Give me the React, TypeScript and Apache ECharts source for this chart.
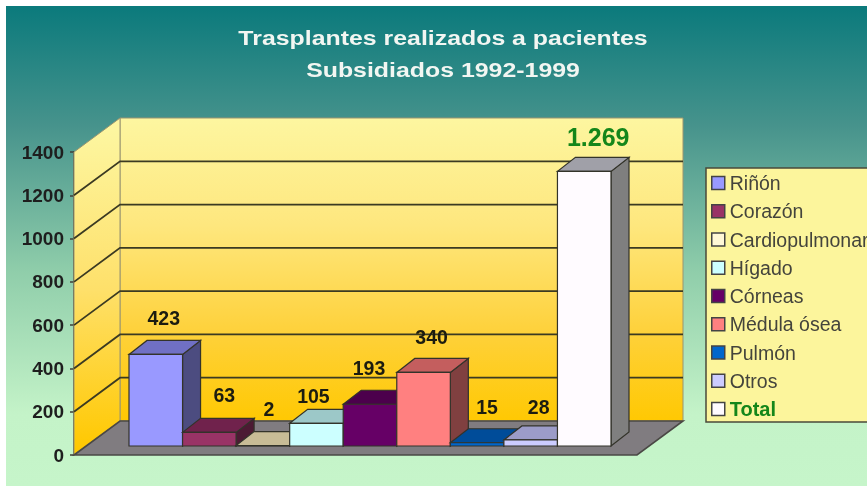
import React, { useEffect, useRef } from "react";
import * as echarts from "echarts";

const categories = ["Riñón", "Corazón", "Cardiopulmonar", "Hígado", "Córneas", "Médula ósea", "Pulmón", "Otros", "Total"];
const values = [423, 63, 2, 105, 193, 340, 15, 28, 1269];
const valueLabels = ["423", "63", "2", "105", "193", "340", "15", "28", "1.269"];
const yTicks = [0, 200, 400, 600, 800, 1000, 1200, 1400];
const titleText = "Trasplantes realizados a pacientes\nSubsidiados 1992-1999";

const frontColors = ["#9999ff", "#993366", "#fff8d6", "#ccffff", "#660066", "#ff8080", "#0066cc", "#ccccff", "#fffbff"];
const topColors = ["#7070c4", "#70224c", "#c8bc96", "#9cc8c8", "#4c004c", "#c45e5e", "#004c99", "#9c9cc8", "#a0a0a8"];
const sideColors = ["#4c4c80", "#4c1a33", "#80806a", "#668080", "#330033", "#804040", "#003366", "#666680", "#7f7f7f"];
const labelNudge = [[8, -36], [15, -37], [6, -37], [-3, -27], [-1, -36], [8, -35], [10, -36], [8, -33], [14, -34]];

const WALL_DX = 46;
const WALL_DY = -34;
const BAR_DX = 18;
const BAR_DY = -14;
const EDGE = "#33332a";
const FONT = '"Liberation Sans", Arial, sans-serif';

const wallGradient = () => ({
  type: "linear", global: true, x: 0, y: 118, x2: 0, y2: 425,
  colorStops: [
    { offset: 0, color: "#fdf6a0" },
    { offset: 0.35, color: "#fee77e" },
    { offset: 0.7, color: "#fed13a" },
    { offset: 1, color: "#ffc800" },
  ],
});

const sideGradient = () => ({
  type: "linear", global: true, x: 0, y: 130, x2: 0, y2: 450,
  colorStops: [
    { offset: 0, color: "#fdf6a0" },
    { offset: 0.5, color: "#fee06a" },
    { offset: 1, color: "#ffc800" },
  ],
});

function renderWalls(_: any, api: any) {
  const [lx, by] = api.coord([0, 0]);
  const [rx] = api.coord([1, 0]);
  const [, ty] = api.coord([0, 1400]);
  const d = (x: number, y: number) => [x + WALL_DX, y + WALL_DY];
  return {
    type: "group",
    children: [
      { type: "polygon", shape: { points: [d(lx, ty), d(rx, ty), d(rx, by), d(lx, by)] }, style: { fill: wallGradient(), stroke: "#9a9570", lineWidth: 1 } },
      { type: "polygon", shape: { points: [[lx, ty], d(lx, ty), d(lx, by), [lx, by]] }, style: { fill: sideGradient(), stroke: "#9a9570", lineWidth: 1 } },
      { type: "polygon", shape: { points: [[lx, by], d(lx, by), d(rx, by), [rx, by]] }, style: { fill: "#807c80", stroke: "#4a4845", lineWidth: 1.6 } },
    ],
  };
}

function renderGridLine(_: any, api: any) {
  const v = api.value(1);
  const [lx, y] = api.coord([0, v]);
  const [rx] = api.coord([1, v]);
  if (v === 0 || v === 1400) return { type: "group", children: [] };
  return {
    type: "polyline",
    shape: { points: [[lx, y], [lx + WALL_DX, y + WALL_DY], [rx + WALL_DX, y + WALL_DY]] },
    style: { stroke: "#3b3a22", lineWidth: 1.8, fill: "none" },
  };
}

const renderBar = (i: number) => (_: any, api: any) => {
  const [cx, base] = api.coord([api.value(0), 0]);
  const [, top] = api.coord([api.value(0), api.value(1)]);
  const w = api.size([1, 0])[0];
  const x0 = cx - w / 2;
  const x1 = cx + w / 2;
  const stroke = { stroke: EDGE, lineWidth: 1.2 };
  const isTotal = i === categories.length - 1;
  return {
    type: "group",
    children: [
      { type: "polygon", shape: { points: [[x1, top], [x1 + BAR_DX, top + BAR_DY], [x1 + BAR_DX, base + BAR_DY], [x1, base]] }, style: { fill: sideColors[i], ...stroke } },
      { type: "polygon", shape: { points: [[x0, top], [x0 + BAR_DX, top + BAR_DY], [x1 + BAR_DX, top + BAR_DY], [x1, top]] }, style: { fill: topColors[i], ...stroke } },
      { type: "polygon", shape: { points: [[x0, top], [x1, top], [x1, base], [x0, base]] }, style: { fill: frontColors[i], ...stroke } },
      {
        type: "text",
        style: {
          text: valueLabels[i],
          x: cx + labelNudge[i][0],
          y: top + labelNudge[i][1],
          align: "center",
          verticalAlign: "middle",
          fill: isTotal ? "#14861a" : "#1c1c10",
          font: `bold ${isTotal ? 25 : 19.5}px ${FONT}`,
        },
      },
    ],
  };
};

export default function App() {
  const ref = useRef<HTMLDivElement>(null);
  useEffect(() => {
    const chart = echarts.init(ref.current!, undefined, { renderer: "svg" });
    chart.setOption({
      animation: false,
      backgroundColor: "#ffffff",
      graphic: {
        elements: [
          {
            type: "rect",
            shape: { x: 6, y: 6, width: 861, height: 480 },
            style: {
              fill: {
                type: "linear", x: 0, y: 0, x2: 0, y2: 1,
                colorStops: [
                  { offset: 0, color: "#0b7a7c" },
                  { offset: 0.25, color: "#47938c" },
                  { offset: 0.55, color: "#8fcdaa" },
                  { offset: 0.85, color: "#c4f3c8" },
                  { offset: 1, color: "#c6f5ca" },
                ],
              },
            },
          },
          {
            type: "text",
            x: 443,
            y: 54,
            scaleX: 1.185,
            style: {
              text: titleText,
              align: "center",
              verticalAlign: "middle",
              lineHeight: 32,
              fill: "#f2f6f2",
              font: `bold 21px ${FONT}`,
            },
          },
        ],
      },
      grid: [
        { left: 74, right: 230, top: 152, height: 303 },
        { left: 129, width: 482, top: 143, height: 303 },
      ],
      xAxis: [
        { type: "value", gridIndex: 0, min: 0, max: 1, show: false },
        { type: "category", gridIndex: 1, data: categories, show: false },
      ],
      yAxis: [
        {
          type: "value", gridIndex: 0, min: 0, max: 1400, interval: 200,
          axisLine: { show: true, lineStyle: { color: "#3f3f3a", width: 1.5 } },
          axisTick: { show: true, length: 4, lineStyle: { color: "#3f3f3a", width: 1.5 } },
          splitLine: { show: false },
          axisLabel: { color: "#1e1e1e", fontFamily: FONT, fontWeight: "bold", fontSize: 19, margin: 10, formatter: (v: number) => String(v) },
        },
        { type: "value", gridIndex: 1, min: 0, max: 1400, show: false, splitLine: { show: false } },
      ],
      legend: {
        orient: "vertical",
        left: 706,
        top: 168,
        padding: [5, 30, 3, 5],
        itemWidth: 13,
        itemHeight: 13,
        itemGap: 8.25,
        icon: "rect",
        selectedMode: false,
        backgroundColor: "#fcf59c",
        borderColor: "#4a4a3a",
        borderWidth: 1.5,
        itemStyle: { borderColor: "#444444", borderWidth: 1.5 },
        textStyle: { color: "#44443c", fontFamily: FONT, fontSize: 19.5, lineHeight: 18 },
        data: categories.map((name, i) =>
          i === categories.length - 1
            ? { name, textStyle: { color: "#14861a", fontWeight: "bold", fontSize: 20 } }
            : { name }
        ),
      },
      series: [
        { type: "custom", name: "walls", xAxisIndex: 0, yAxisIndex: 0, silent: true, renderItem: renderWalls, data: [[0, 0]], z: 1 },
        { type: "custom", name: "gridlines", xAxisIndex: 0, yAxisIndex: 0, silent: true, renderItem: renderGridLine, data: yTicks.map((t) => [0, t]), z: 1 },
        ...categories.map((name, i) => ({
          type: "custom",
          name,
          xAxisIndex: 1,
          yAxisIndex: 1,
          silent: true,
          itemStyle: { color: frontColors[i] },
          renderItem: renderBar(i),
          data: [[i, values[i]]],
          z: 2,
        })),
      ],
    });
    return () => chart.dispose();
  }, []);
  return <div ref={ref} style={{ position: "absolute", left: 0, top: 0, width: 867, height: 486, filter: "blur(0.4px)" }} />;
}
